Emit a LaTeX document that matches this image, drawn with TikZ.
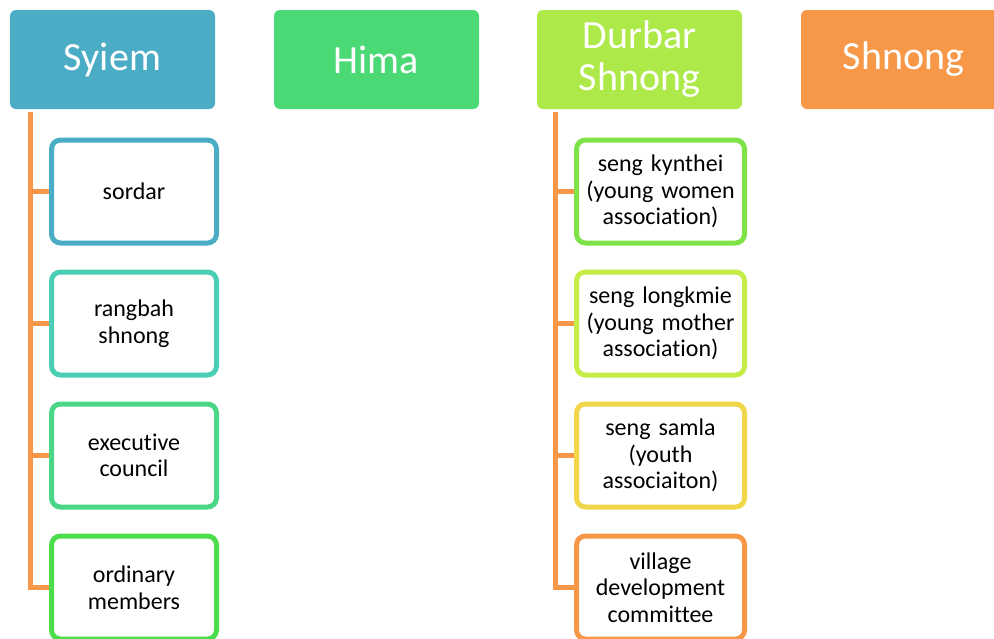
\documentclass[tikz,border=0pt]{standalone}
\usepackage{fontspec}
\setmainfont{Carlito}[Ligatures={NoCommon,NoContextual}, RawFeature={-calt}]
\usetikzlibrary{positioning}

\definecolor{syiemblue}{RGB}{75,172,198}
\definecolor{himagreen}{RGB}{74,217,117}
\definecolor{durbarlime}{RGB}{173,233,72}
\definecolor{shnongorange}{RGB}{247,152,72}
\definecolor{rangbahteal}{RGB}{74,206,180}
\definecolor{execgreen}{RGB}{74,214,134}
\definecolor{ordinarygreen}{RGB}{76,222,74}
\definecolor{kyntheigreen}{RGB}{125,227,72}
\definecolor{longkmielime}{RGB}{198,236,72}
\definecolor{samlayellow}{RGB}{240,214,72}

\begin{document}
\begin{tikzpicture}[
    x=1pt, y=-1pt,
    head/.style={rounded corners=6pt, minimum width=205pt, minimum height=99pt, inner sep=2pt, align=center, text=white, font=\fontsize{40}{42}\selectfont},
    member/.style={draw=#1, line width=5pt, fill=white, rounded corners=9pt, minimum width=165pt, minimum height=103pt, inner sep=2pt, text width=160pt, align=center, font=\fontsize{24}{26.5}\selectfont},
    wide/.style={member=#1, minimum width=168pt},
    link/.style={draw=shnongorange, line width=5pt}
]
\clip (0,0) rectangle (994,638);

% --- Top row ---
\node[head, fill=syiemblue] (syiem) at (112.5, 59.5) {Syiem};
\node[head, fill=himagreen] (hima) at (376.5, 59.5) {Hima};
\node[head, fill=durbarlime] (durbar) at (639.5, 59.5) {Durbar\\Shnong};
\node[head, fill=shnongorange] (shnong) at (903.5, 59.5) {Shnong};

% --- Syiem column ---
\coordinate (s0) at (30, 112);
\node[member=syiemblue] (sordar) at (134, 191.5) {sordar};
\node[member=rangbahteal] (rangbah) at (134, 323.5) {rangbah\\shnong};
\node[member=execgreen] (exec) at (134, 455.5) {executive\\council};
\node[member=ordinarygreen] (ordinary) at (134, 587.5) {ordinary\\members};

\draw[link] (s0) -- (s0 |- ordinary.west) -- (ordinary.west);
\foreach \n in {sordar, rangbah, exec}
    \draw[link] (s0 |- \n.west) -- (\n.west);

% --- Durbar Shnong column ---
\coordinate (d0) at (555.5, 112);
\node[wide=kyntheigreen] (kynthei) at (660.5, 191.5) {seng kynthei\\(young women\\association)};
\node[wide=longkmielime] (longkmie) at (660.5, 323.5) {seng longkmie\\(young mother\\association)};
\node[wide=samlayellow] (samla) at (660.5, 455.5) {seng samla\\(youth\\associaiton)};
\node[wide=shnongorange] (village) at (660.5, 587.5) {village\\development\\committee};

\draw[link] (d0) -- (d0 |- village.west) -- (village.west);
\foreach \n in {kynthei, longkmie, samla}
    \draw[link] (d0 |- \n.west) -- (\n.west);

\end{tikzpicture}
\end{document}
